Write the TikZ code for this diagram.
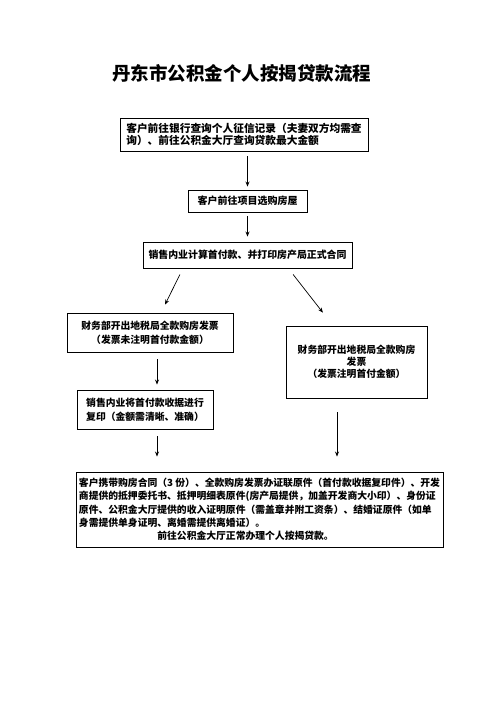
\documentclass[tikz,border=0pt]{standalone}
\usepackage{fontspec}
\setmainfont{Noto Sans CJK SC}
\usepackage{tikz}
\usetikzlibrary{arrows.meta}
\begin{document}
\begin{tikzpicture}[x=1pt,y=-1pt,
                box/.style={draw,line width=0.9pt,inner sep=0pt},
                arr/.style={-{Stealth[length=5pt,width=4pt]},line width=0.7pt}]
                \useasboundingbox (0,0) rectangle (496,702);
                \node[font=\bfseries\fontsize{18.5}{20}\selectfont] (title) at (241.5,73) {丹东市公积金个人按揭贷款流程};
                \node[box,minimum width=248pt,minimum height=33pt,align=left,font=\bfseries\fontsize{10.7}{11.5}\selectfont] (ask) at (244,134.5) {客户前往银行查询个人征信记录（夫妻双方均需查\\询）、前往公积金大厅查询贷款最大金额};
                \node[box,minimum width=119pt,minimum height=22pt,font=\bfseries\fontsize{10}{12}\selectfont] (house) at (247.5,201) {客户前往项目选购房屋};
                \node[box,minimum width=209pt,minimum height=26pt,font=\bfseries\fontsize{9.9}{12}\selectfont] (contract) at (247.5,255) {销售内业计算首付款、并打印房产局正式合同};
                \node[box,minimum width=166pt,minimum height=39pt,align=left,font=\bfseries\fontsize{9.8}{14}\selectfont] (invoiceA) at (150,332.5) {财务部开出地税局全款购房发票\\\hspace*{1em}（发票未注明首付款金额）};
                \node[box,minimum width=141pt,minimum height=72pt,align=center,font=\bfseries\fontsize{9.8}{12}\selectfont] (invoiceB) at (356.5,362) {财务部开出地税局全款购房\\发票\\（发票注明首付金额）};
                \node[box,minimum width=136pt,minimum height=39pt,align=left,font=\bfseries\fontsize{9.8}{14}\selectfont] (receipt) at (145,409.5) {销售内业将首付款收据进行\\复印（金额需清晰、准确）};
                \node[box,minimum width=367pt,minimum height=75pt,align=left,font=\bfseries\fontsize{9.8}{13.3}\selectfont] (apply) at (259.5,509.5) {客户携带购房合同（3~份）、全款购房发票办证联原件（首付款收据复印件）、开发\\商提供的抵押委托书、抵押明细表原件(房产局提供，加盖开发商大小印）、身份证\\原件、公积金大厅提供的收入证明原件（需盖章并附工资条）、结婚证原件（如单\\身需提供单身证明、离婚需提供离婚证）。\\\hspace*{8em}前往公积金大厅正常办理个人按揭贷款。};
                \draw[arr,shorten <=5pt,shorten >=3pt] (ask.south -| house.north) -- (house.north);
                \draw[arr,shorten <=4pt,shorten >=5pt] (house.south) -- (house.south |- contract.north);
                \draw[arr,shorten <=6.7pt,shorten >=8.9pt] ([xshift=-64.6pt]contract.south) -- ([xshift=11.1pt]invoiceA.north);
                \draw[arr,shorten <=7.6pt,shorten >=16.4pt] ([xshift=40.9pt]contract.south) -- ([xshift=-23.5pt]invoiceB.north);
                \draw[arr,shorten <=7pt,shorten >=5pt] ([xshift=7pt]invoiceA.south) -- ([xshift=7pt]invoiceA.south |- receipt.north);
                \draw[arr,shorten <=7pt,shorten >=15pt] ([xshift=12pt]receipt.south) -- ([xshift=12pt]receipt.south |- apply.north);
                \draw[arr,shorten <=14pt,shorten >=15pt] ([xshift=-19.5pt]invoiceB.south) -- ([xshift=-19.5pt]invoiceB.south |- apply.north);
            \end{tikzpicture}
\end{document}
